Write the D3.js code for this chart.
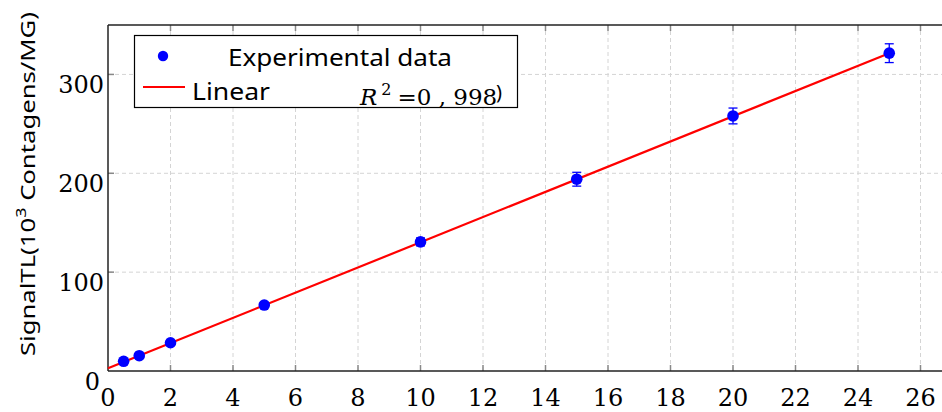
<!DOCTYPE html>
<html>
<head>
<meta charset="utf-8">
<script src="https://cdn.jsdelivr.net/npm/d3@7"></script>
<style>
  html, body { margin: 0; padding: 0; background: #fff; }
  svg { display: block; }
</style>
</head>
<body>
<svg id="chart" width="942" height="412"></svg>
<script>
// concentration values and measured signal
const conc = [0.5, 1, 2, 5, 10, 15, 20, 25];
const signal = [9.8, 15.5, 28.6, 66.7, 130.6, 194, 258, 321.5];
const errs = [1, 1, 1.5, 2, 4, 7, 8, 9.5];
// linear fit end points
const fitX = [0, 25];
const fitY = [2.7, 321.5];
const xTicks = [0, 2, 4, 6, 8, 10, 12, 14, 16, 18, 20, 22, 24, 26];
const yTicks = [0, 100, 200, 300];

const svg = d3.select("#chart");
const margin = { top: 25, left: 108, bottom: 41 };
const height = 412;

const x = d3.scaleLinear().domain([0, 27]).range([margin.left, margin.left + 27 * 31.25]);
const y = d3.scaleLinear().domain([0, 350]).range([height - margin.bottom, margin.top]);

const serif = "'DejaVu Serif', serif";
const sans = "'Noto Sans', 'Open Sans', sans-serif";

// grid
const grid = svg.append("g").attr("stroke", "#d4d4d4").attr("stroke-dasharray", "4,3").attr("stroke-width", 1);
grid.selectAll(".vg").data(xTicks.filter(d => d > 0)).enter().append("line")
  .attr("x1", d => x(d)).attr("x2", d => x(d))
  .attr("y1", y(0)).attr("y2", y(350));
grid.selectAll(".hg").data(yTicks.filter(d => d > 0)).enter().append("line")
  .attr("x1", x(0)).attr("x2", 942)
  .attr("y1", d => y(d)).attr("y2", d => y(d));

// inner ticks
const tk = svg.append("g").attr("stroke", "#888").attr("stroke-width", 1.5);
tk.selectAll(".bt").data(xTicks.filter(d => d > 0)).enter().append("line")
  .attr("x1", d => x(d)).attr("x2", d => x(d)).attr("y1", y(0)).attr("y2", y(0) - 6);
tk.selectAll(".tt").data(xTicks.filter(d => d > 0)).enter().append("line")
  .attr("x1", d => x(d)).attr("x2", d => x(d)).attr("y1", y(350)).attr("y2", y(350) + 6);
tk.selectAll(".lt").data(yTicks.filter(d => d > 0)).enter().append("line")
  .attr("x1", x(0)).attr("x2", x(0) + 6).attr("y1", d => y(d)).attr("y2", d => y(d));

// axes frame
const frame = svg.append("g").attr("stroke", "#222").attr("stroke-width", 1.5);
frame.append("line").attr("x1", x(0)).attr("x2", 942).attr("y1", y(0)).attr("y2", y(0));
frame.append("line").attr("x1", x(0)).attr("x2", 942).attr("y1", y(350)).attr("y2", y(350));
frame.append("line").attr("x1", x(0)).attr("x2", x(0)).attr("y1", y(0)).attr("y2", y(350));

// tick labels
svg.append("g").selectAll("text").data(xTicks).enter().append("text")
  .attr("x", d => x(d)).attr("y", 406)
  .attr("text-anchor", "middle")
  .style("font-family", serif).style("font-size", "24px")
  .text(d => d);
svg.append("g").selectAll("text").data(yTicks).enter().append("text")
  .attr("x", d => d === 0 ? 100 : 104).attr("y", d => y(d) + 19)
  .attr("text-anchor", "end")
  .style("font-family", serif).style("font-size", "24px")
  .text(d => d);

// y axis title
const yt = svg.append("text")
  .attr("transform", "translate(35,184) rotate(-90)")
  .attr("text-anchor", "middle")
  .style("font-family", sans).style("font-size", "20px")
  .attr("textLength", 344).attr("lengthAdjust", "spacingAndGlyphs");
yt.append("tspan").text("SignalTL(10");
yt.append("tspan").attr("baseline-shift", "super").style("font-size", "14px").text("3");
yt.append("tspan").text(" Contagens/MG)");

// fit line
svg.append("path")
  .datum(fitX.map((d, i) => [d, fitY[i]]))
  .attr("fill", "none").attr("stroke", "#ff0000").attr("stroke-width", 2.2)
  .attr("d", d3.line().x(d => x(d[0])).y(d => y(d[1])));

// error bars
const eb = svg.append("g").attr("stroke", "#0000ff").attr("stroke-width", 1.3);
conc.forEach((c, i) => {
  const x0 = x(c), lo = y(signal[i] - errs[i]), hi = y(signal[i] + errs[i]);
  eb.append("line").attr("x1", x0).attr("x2", x0).attr("y1", lo).attr("y2", hi);
  eb.append("line").attr("x1", x0 - 4.5).attr("x2", x0 + 4.5).attr("y1", lo).attr("y2", lo);
  eb.append("line").attr("x1", x0 - 4.5).attr("x2", x0 + 4.5).attr("y1", hi).attr("y2", hi);
});

// points
svg.append("g").selectAll("circle").data(conc).enter().append("circle")
  .attr("cx", d => x(d)).attr("cy", (d, i) => y(signal[i]))
  .attr("r", 5.8).attr("fill", "#0000ff");

// legend
const lg = svg.append("g");
lg.append("rect").attr("x", 134.5).attr("y", 35.5).attr("width", 383).attr("height", 72)
  .attr("fill", "#fff").attr("stroke", "#000").attr("stroke-width", 1.2);
lg.append("circle").attr("cx", 163).attr("cy", 56).attr("r", 5.2).attr("fill", "#0000ff");
lg.append("text").attr("x", 228).attr("y", 66)
  .style("font-family", sans).style("font-size", "24px")
  .attr("textLength", 224).attr("lengthAdjust", "spacingAndGlyphs")
  .text("Experimental data");
lg.append("line").attr("x1", 143).attr("x2", 185).attr("y1", 87).attr("y2", 87)
  .attr("stroke", "#ff0000").attr("stroke-width", 2);
lg.append("text").attr("x", 192).attr("y", 100)
  .style("font-family", sans).style("font-size", "24px")
  .attr("textLength", 78).attr("lengthAdjust", "spacingAndGlyphs")
  .text("Linear");
const r2 = lg.append("text").attr("x", 360).attr("y", 105)
  .style("font-family", serif).style("font-size", "23px");
r2.append("tspan").style("font-style", "italic").text("R");
r2.append("tspan").attr("dx", 4).attr("dy", -10).style("font-size", "16px").text("2");
r2.append("tspan").attr("dx", 6).attr("dy", 10).text("=0 , 998");
lg.append("text").attr("x", 496).attr("y", 99)
  .style("font-family", sans).style("font-size", "20px")
  .text(")");
</script>
</body>
</html>
